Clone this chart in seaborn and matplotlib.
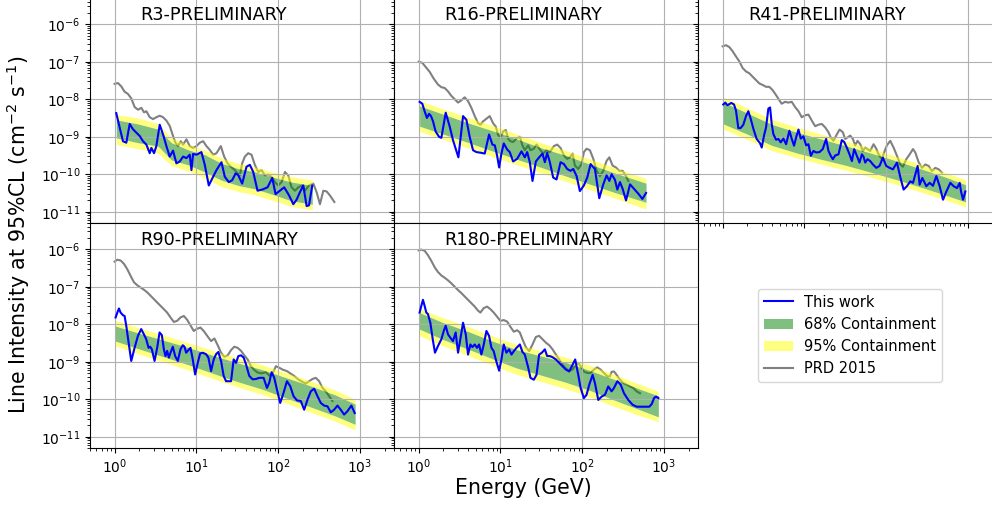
import numpy as np
import matplotlib
matplotlib.use("Agg")
import matplotlib.pyplot as plt
import seaborn as sns
from matplotlib.lines import Line2D
from matplotlib.patches import Patch

# all values are log10(E / GeV) and log10(intensity / cm^-2 s^-1)

# ---- R3 ----
r3_e = [0.02, 0.061, 0.102, 0.143, 0.184, 0.224, 0.265, 0.306, 0.347, 0.388, 0.429, 0.449, 0.482, 0.51, 0.551,
        0.592, 0.633, 0.673, 0.714, 0.755, 0.796, 0.837, 0.878, 0.918, 0.939, 0.959, 1.0, 1.061, 1.102, 1.151,
        1.192, 1.245, 1.306, 1.347, 1.396, 1.437, 1.478, 1.51, 1.559, 1.612, 1.653, 1.694, 1.747, 1.804, 1.869,
        1.927, 1.967, 2.02, 2.073, 2.131, 2.184, 2.224, 2.265, 2.306, 2.347, 2.376, 2.416]
r3_lim = [-8.37, -8.75, -9.12, -9.16, -8.66, -8.8, -8.89, -8.98, -9.12, -9.21, -9.44, -9.3, -9.44, -9.25, -8.68,
          -8.94, -9.25, -9.53, -9.37, -9.71, -9.66, -9.53, -9.57, -9.48, -9.89, -9.46, -9.48, -9.41, -9.75, -10.3,
          -10.12, -9.89, -9.68, -10.07, -10.21, -10.16, -9.98, -10.02, -10.25, -9.8, -9.75, -9.94, -10.44, -10.41,
          -10.35, -10.1, -10.53, -10.44, -10.35, -10.56, -10.8, -10.68, -10.48, -10.3, -10.85, -10.83, -10.3]
r3_prd_e = [0, 0.041, 0.082, 0.122, 0.163, 0.204, 0.245, 0.286, 0.327, 0.359, 0.388, 0.429, 0.469, 0.51, 0.551,
            0.592, 0.633, 0.673, 0.714, 0.743, 0.776, 0.808, 0.837, 0.878, 0.918, 0.959, 1.0, 1.041, 1.082, 1.122,
            1.163, 1.204, 1.245, 1.298, 1.339, 1.38, 1.42, 1.469, 1.502, 1.531, 1.559, 1.592, 1.633, 1.673, 1.714,
            1.755, 1.796, 1.837, 1.878, 1.918, 1.959, 2.0, 2.041, 2.082, 2.122, 2.163, 2.204, 2.245, 2.294, 2.327,
            2.376, 2.429, 2.469, 2.51, 2.551, 2.592, 2.633, 2.686]
r3_prd = [-7.59, -7.57, -7.66, -7.8, -7.86, -7.98, -8.21, -8.28, -8.23, -8.35, -8.32, -8.48, -8.53, -8.48, -8.44,
          -8.48, -8.57, -8.71, -8.98, -9.16, -9.25, -9.12, -9.21, -9.07, -9.25, -9.3, -9.25, -9.16, -9.12, -9.25,
          -9.35, -9.48, -9.44, -9.25, -9.53, -9.71, -9.8, -9.89, -9.98, -10.03, -9.71, -9.53, -9.44, -9.48, -9.75,
          -9.94, -9.89, -10.03, -10.01, -10.07, -10.21, -10.3, -10.21, -9.94, -10.03, -10.35, -10.44, -10.35, -10.3,
          -10.44, -10.3, -10.25, -10.48, -10.8, -10.44, -10.46, -10.57, -10.74]
r3_band_e = [0.02, 0.286, 0.531, 0.694, 0.898, 1.102, 1.306, 1.51, 1.714, 1.918, 2.163, 2.416]
r3_g_hi = [-8.55, -8.66, -8.8, -9.16, -9.35, -9.48, -9.71, -9.85, -9.94, -10.07, -10.21, -10.3]
r3_g_lo = [-9.03, -9.16, -9.25, -9.62, -9.75, -9.94, -10.16, -10.3, -10.39, -10.53, -10.71, -10.8]
r3_y_hi = [-8.41, -8.5, -8.65, -9.03, -9.21, -9.35, -9.57, -9.71, -9.8, -9.94, -10.07, -10.16]
r3_y_lo = [-9.21, -9.32, -9.44, -9.77, -9.92, -10.1, -10.33, -10.46, -10.55, -10.69, -10.86, -10.95]

# ---- R16 ----
r16_e = [0.012, 0.045, 0.073, 0.102, 0.127, 0.151, 0.176, 0.208, 0.249, 0.278, 0.331, 0.38, 0.42, 0.486, 0.543,
         0.584, 0.624, 0.665, 0.706, 0.767, 0.808, 0.861, 0.902, 0.931, 0.959, 0.984, 1.012, 1.041, 1.082, 1.114,
         1.155, 1.204, 1.257, 1.298, 1.327, 1.359, 1.392, 1.433, 1.473, 1.514, 1.543, 1.571, 1.604, 1.645, 1.686,
         1.735, 1.776, 1.816, 1.857, 1.89, 1.931, 1.971, 2.02, 2.061, 2.102, 2.155, 2.208, 2.257, 2.298, 2.331,
         2.359, 2.4, 2.429, 2.461, 2.494, 2.535, 2.584, 2.633, 2.686, 2.735, 2.78]
r16_lim = [-8.07, -8.12, -8.32, -8.5, -8.39, -8.45, -8.59, -8.86, -9.0, -9.03, -8.36, -8.73, -9.09, -9.55, -8.45,
           -8.55, -9.0, -9.36, -9.41, -9.43, -9.45, -8.94, -9.21, -9.23, -9.5, -9.82, -9.45, -9.18, -9.34, -9.41,
           -9.66, -9.59, -9.39, -9.55, -9.41, -9.68, -10.18, -9.66, -9.55, -9.45, -9.68, -9.43, -9.68, -10.09,
           -10.14, -9.68, -9.73, -9.86, -9.91, -9.86, -10.05, -10.45, -10.3, -10.09, -9.73, -9.86, -10.64, -10.27,
           -10.03, -10.18, -10.0, -10.15, -10.41, -10.21, -10.39, -10.7, -10.27, -10.39, -10.52, -10.66, -10.5]
r16_prd_e = [0, 0.045, 0.086, 0.135, 0.184, 0.237, 0.278, 0.318, 0.359, 0.4, 0.441, 0.482, 0.522, 0.563, 0.604,
             0.645, 0.686, 0.727, 0.755, 0.788, 0.829, 0.869, 0.91, 0.943, 0.971, 1.0, 1.033, 1.065, 1.094, 1.122,
             1.155, 1.196, 1.237, 1.269, 1.298, 1.339, 1.367, 1.408, 1.441, 1.49, 1.522, 1.563, 1.604, 1.653, 1.694,
             1.735, 1.776, 1.816, 1.849, 1.882, 1.91, 1.951, 1.992, 2.02, 2.053, 2.094, 2.135, 2.176, 2.216, 2.257,
             2.298, 2.331, 2.371, 2.412, 2.453, 2.494, 2.535, 2.563]
r16_prd = [-7.0, -7.03, -7.14, -7.27, -7.45, -7.61, -7.68, -7.7, -7.79, -7.91, -8.0, -8.09, -8.03, -7.95, -8.05,
           -8.23, -8.45, -8.64, -8.68, -8.59, -8.52, -8.45, -8.64, -8.73, -8.95, -9.03, -8.86, -8.82, -9.05, -9.12,
           -9.14, -9.05, -9.0, -9.23, -9.36, -9.23, -9.36, -9.32, -9.21, -9.36, -9.45, -9.36, -9.41, -9.25, -9.21,
           -9.3, -9.5, -9.59, -9.55, -9.45, -9.77, -9.86, -9.73, -9.41, -9.32, -9.36, -9.59, -9.91, -10.05, -9.91,
           -9.64, -9.55, -9.77, -9.82, -9.91, -9.91, -10.05, -10.18]
r16_band_e = [0.012, 0.3, 0.6, 0.9, 1.2, 1.5, 1.8, 2.1, 2.4, 2.78]
r16_g_hi = [-8.18, -8.40, -8.63, -8.84, -9.06, -9.30, -9.50, -9.74, -9.97, -10.24]
r16_g_lo = [-8.72, -8.93, -9.15, -9.38, -9.60, -9.82, -10.05, -10.27, -10.49, -10.75]
r16_y_hi = [-8.04, -8.26, -8.48, -8.70, -8.93, -9.16, -9.37, -9.60, -9.83, -10.12]
r16_y_lo = [-8.86, -9.07, -9.30, -9.53, -9.75, -9.97, -10.19, -10.42, -10.64, -10.93]

# ---- R41 ----
r41_e = [0.008, 0.033, 0.057, 0.082, 0.106, 0.139, 0.163, 0.192, 0.22, 0.253, 0.286, 0.314, 0.343, 0.376, 0.416,
         0.457, 0.478, 0.506, 0.531, 0.559, 0.58, 0.6, 0.62, 0.653, 0.682, 0.71, 0.743, 0.776, 0.816, 0.845,
         0.873, 0.898, 0.927, 0.955, 0.988, 1.02, 1.049, 1.078, 1.11, 1.143, 1.184, 1.224, 1.265, 1.294, 1.322,
         1.347, 1.376, 1.416, 1.457, 1.486, 1.518, 1.551, 1.58, 1.608, 1.641, 1.673, 1.702, 1.722, 1.743, 1.771,
         1.804, 1.837, 1.878, 1.918, 1.959, 2.0, 2.041, 2.082, 2.131, 2.171, 2.212, 2.253, 2.294, 2.327, 2.355,
         2.384, 2.408, 2.441, 2.49, 2.531, 2.571, 2.612, 2.653, 2.694, 2.735, 2.784, 2.824, 2.865, 2.898, 2.914,
         2.939, 2.967]
r41_lim = [-8.14, -8.09, -8.16, -8.13, -8.10, -8.14, -8.30, -8.77, -8.77, -8.68, -8.45, -8.32, -8.52, -8.79, -9.06,
           -9.17, -9.29, -8.97, -8.75, -8.25, -8.22, -8.66, -8.93, -9.08, -9.06, -9.15, -9.05, -9.20, -8.84, -9.06,
           -9.24, -9.02, -8.81, -9.05, -8.99, -9.23, -9.20, -9.51, -9.38, -9.42, -9.41, -9.33, -9.06, -9.38, -9.51,
           -9.60, -9.50, -9.47, -9.09, -9.14, -9.29, -9.47, -9.65, -9.33, -9.51, -9.69, -9.47, -9.53, -9.69, -9.60,
           -9.65, -9.74, -9.83, -9.78, -9.56, -9.78, -9.83, -9.87, -9.69, -10.07, -10.41, -10.32, -10.19, -10.23,
           -10.01, -9.78, -10.28, -10.10, -10.32, -10.23, -10.31, -10.05, -10.32, -10.68, -10.46, -10.23, -10.32,
           -10.37, -10.23, -10.46, -10.68, -10.46]
r41_prd_e = [0, 0.041, 0.082, 0.122, 0.163, 0.204, 0.245, 0.286, 0.327, 0.367, 0.408, 0.449, 0.49, 0.531, 0.571,
             0.612, 0.653, 0.694, 0.722, 0.763, 0.804, 0.845, 0.886, 0.927, 0.967, 1.008, 1.049, 1.09, 1.131, 1.171,
             1.212, 1.253, 1.294, 1.322, 1.355, 1.388, 1.429, 1.469, 1.498, 1.527, 1.559, 1.592, 1.62, 1.649, 1.682,
             1.714, 1.743, 1.771, 1.804, 1.845, 1.878, 1.906, 1.947, 1.976, 2.008, 2.049, 2.09, 2.131, 2.171, 2.204,
             2.245, 2.286, 2.327, 2.355, 2.396, 2.437, 2.478, 2.518, 2.559, 2.6, 2.641, 2.682]
r41_prd = [-6.59, -6.56, -6.61, -6.72, -6.86, -6.99, -7.17, -7.26, -7.31, -7.40, -7.49, -7.58, -7.62, -7.67, -7.67,
           -7.76, -7.89, -8.03, -8.12, -8.07, -8.09, -8.07, -8.21, -8.32, -8.48, -8.43, -8.41, -8.57, -8.72, -8.68,
           -8.66, -8.75, -8.88, -9.02, -9.11, -8.97, -8.81, -8.88, -9.06, -9.02, -8.97, -9.06, -9.23, -9.11, -9.20,
           -9.38, -9.29, -9.33, -9.38, -9.20, -9.32, -9.47, -9.60, -9.41, -9.23, -9.11, -9.29, -9.51, -9.74, -9.80,
           -9.60, -9.47, -9.33, -9.42, -9.68, -9.83, -9.74, -9.78, -9.92, -9.83, -9.87, -9.96]
r41_band_e = [0.01, 0.3, 0.6, 0.9, 1.2, 1.5, 1.8, 2.1, 2.4, 2.7, 2.97]
r41_g_hi = [-8.08, -8.37, -8.67, -8.88, -9.06, -9.24, -9.43, -9.63, -9.84, -10.06, -10.28]
r41_g_lo = [-8.66, -8.93, -9.23, -9.43, -9.60, -9.76, -9.94, -10.13, -10.33, -10.54, -10.74]
r41_y_hi = [-7.94, -8.23, -8.53, -8.74, -8.93, -9.11, -9.30, -9.51, -9.72, -9.94, -10.15]
r41_y_lo = [-8.80, -9.07, -9.37, -9.56, -9.73, -9.89, -10.07, -10.26, -10.46, -10.67, -10.87]

# ---- R90 ----
r90_e = [0.012, 0.033, 0.053, 0.073, 0.102, 0.122, 0.142, 0.171, 0.203, 0.244, 0.285, 0.325, 0.358, 0.386, 0.415,
         0.435, 0.455, 0.488, 0.52, 0.549, 0.577, 0.602, 0.622, 0.642, 0.663, 0.683, 0.711, 0.74, 0.772, 0.805,
         0.833, 0.854, 0.874, 0.894, 0.927, 0.955, 0.984, 1.016, 1.045, 1.077, 1.118, 1.146, 1.179, 1.211, 1.24,
         1.268, 1.301, 1.333, 1.362, 1.39, 1.423, 1.455, 1.484, 1.512, 1.545, 1.577, 1.606, 1.646, 1.687, 1.728,
         1.768, 1.821, 1.862, 1.89, 1.919, 1.951, 1.984, 2.024, 2.065, 2.106, 2.146, 2.187, 2.228, 2.276, 2.317,
         2.358, 2.398, 2.439, 2.48, 2.52, 2.561, 2.602, 2.642, 2.683, 2.724, 2.764, 2.805, 2.846, 2.894, 2.935]
r90_lim = [-7.82, -7.69, -7.58, -7.69, -7.76, -7.78, -8.04, -8.49, -8.98, -8.63, -8.31, -8.13, -8.27, -8.40, -8.63,
           -8.60, -8.67, -8.98, -8.63, -8.22, -8.29, -8.67, -8.85, -8.71, -8.89, -8.76, -8.60, -8.85, -8.98, -8.67,
           -8.56, -8.60, -8.76, -8.71, -8.63, -8.94, -9.34, -9.03, -8.78, -8.76, -8.80, -8.89, -9.25, -8.94, -8.80,
           -8.74, -8.98, -9.38, -9.52, -9.52, -9.52, -8.94, -9.03, -8.85, -8.83, -8.89, -9.07, -9.38, -9.47, -9.46,
           -9.43, -9.43, -9.70, -9.56, -9.28, -9.43, -9.74, -10.10, -9.83, -9.52, -9.65, -9.92, -10.03, -10.05,
           -10.28, -10.01, -9.79, -9.72, -9.92, -10.10, -10.17, -10.19, -10.35, -10.28, -10.17, -10.28, -10.41,
           -10.32, -10.17, -10.37]
r90_prd_e = [0, 0.033, 0.073, 0.114, 0.154, 0.195, 0.236, 0.276, 0.317, 0.358, 0.398, 0.439, 0.48, 0.52, 0.561,
             0.602, 0.642, 0.683, 0.724, 0.764, 0.805, 0.846, 0.886, 0.927, 0.967, 1.008, 1.049, 1.089, 1.138, 1.179,
             1.22, 1.26, 1.301, 1.341, 1.382, 1.423, 1.463, 1.504, 1.545, 1.585, 1.626, 1.667, 1.707, 1.748, 1.797,
             1.85, 1.89, 1.931, 1.972, 2.012, 2.053, 2.106, 2.146, 2.195, 2.244, 2.297, 2.337, 2.378, 2.419, 2.459,
             2.5, 2.541, 2.581, 2.622, 2.663]
r90_prd = [-6.33, -6.28, -6.30, -6.39, -6.53, -6.71, -6.88, -6.96, -7.02, -7.08, -7.15, -7.24, -7.33, -7.42, -7.51,
           -7.60, -7.69, -7.82, -7.94, -7.91, -7.82, -7.78, -7.88, -8.03, -8.18, -8.12, -8.09, -8.18, -8.33, -8.45,
           -8.38, -8.56, -8.76, -8.87, -8.83, -8.69, -8.60, -8.63, -8.71, -8.83, -8.94, -9.12, -9.22, -9.29, -9.31,
           -9.28, -9.37, -9.31, -9.12, -9.16, -9.21, -9.25, -9.31, -9.38, -9.47, -9.54, -9.58, -9.52, -9.46, -9.43,
           -9.52, -9.70, -9.79, -9.92, -10.05]
r90_band_e = [0.01, 0.3, 0.6, 0.9, 1.2, 1.5, 1.8, 2.1, 2.4, 2.7, 2.94]
r90_g_hi = [-8.05, -8.24, -8.43, -8.62, -8.83, -9.03, -9.21, -9.43, -9.65, -9.89, -10.13]
r90_g_lo = [-8.45, -8.66, -8.87, -9.08, -9.31, -9.53, -9.73, -9.97, -10.21, -10.45, -10.67]
r90_y_hi = [-7.90, -8.10, -8.29, -8.49, -8.70, -8.90, -9.08, -9.30, -9.52, -9.76, -10.0]
r90_y_lo = [-8.58, -8.80, -9.01, -9.22, -9.45, -9.67, -9.87, -10.11, -10.35, -10.59, -10.82]

# ---- R180 ----
r180_e = [0.012, 0.033, 0.053, 0.073, 0.094, 0.114, 0.143, 0.176, 0.2, 0.237, 0.278, 0.31, 0.331, 0.359, 0.388,
          0.42, 0.453, 0.482, 0.51, 0.543, 0.576, 0.604, 0.633, 0.657, 0.686, 0.714, 0.739, 0.767, 0.796, 0.829,
          0.861, 0.89, 0.918, 0.943, 0.984, 1.012, 1.041, 1.073, 1.106, 1.135, 1.163, 1.196, 1.237, 1.269, 1.298,
          1.339, 1.367, 1.408, 1.441, 1.473, 1.506, 1.543, 1.571, 1.604, 1.637, 1.678, 1.718, 1.759, 1.8, 1.841,
          1.882, 1.914, 1.951, 1.98, 2.02, 2.053, 2.086, 2.127, 2.155, 2.196, 2.237, 2.278, 2.318, 2.359, 2.388,
          2.429, 2.469, 2.51, 2.563, 2.616, 2.665, 2.714, 2.767, 2.82, 2.849, 2.878, 2.902, 2.931]
r180_lim = [-7.69, -7.51, -7.35, -7.51, -7.69, -7.73, -7.96, -8.45, -8.76, -8.58, -8.40, -8.16, -8.04, -8.27, -8.36,
            -8.45, -8.22, -8.76, -8.40, -7.96, -8.27, -8.81, -8.54, -8.61, -8.54, -8.63, -8.54, -8.81, -8.54, -8.18,
            -8.31, -8.63, -8.72, -8.94, -9.24, -8.94, -8.54, -8.76, -8.67, -8.81, -8.72, -8.63, -8.54, -8.74, -8.81,
            -9.15, -9.43, -9.48, -9.35, -8.81, -8.76, -8.67, -8.85, -8.85, -8.88, -8.94, -9.03, -9.12, -9.21, -9.26,
            -9.08, -8.94, -9.35, -9.70, -9.97, -9.88, -9.61, -9.35, -9.57, -10.02, -9.93, -9.88, -9.66, -9.79, -9.70,
            -9.52, -9.61, -9.84, -10.02, -10.15, -10.20, -10.20, -10.20, -10.20, -10.13, -9.97, -9.93, -9.97]
r180_prd_e = [0, 0.033, 0.073, 0.114, 0.155, 0.196, 0.237, 0.278, 0.318, 0.359, 0.4, 0.441, 0.482, 0.522, 0.563,
              0.604, 0.645, 0.686, 0.727, 0.755, 0.796, 0.837, 0.878, 0.918, 0.959, 1.0, 1.041, 1.082, 1.122, 1.163,
              1.204, 1.237, 1.269, 1.31, 1.351, 1.392, 1.433, 1.473, 1.514, 1.555, 1.596, 1.637, 1.678, 1.718, 1.759,
              1.8, 1.841, 1.882, 1.922, 1.951, 1.98, 2.02, 2.061, 2.102, 2.143, 2.184, 2.224, 2.265, 2.306, 2.339,
              2.359, 2.388, 2.42, 2.461, 2.502, 2.543, 2.584, 2.624, 2.665, 2.706]
r180_prd = [-6.03, -6.01, -6.04, -6.16, -6.31, -6.48, -6.61, -6.70, -6.76, -6.83, -6.91, -7.0, -7.09, -7.17, -7.26,
            -7.35, -7.44, -7.53, -7.64, -7.69, -7.57, -7.53, -7.60, -7.69, -7.80, -7.91, -7.89, -7.93, -8.07, -8.20,
            -8.16, -8.22, -8.40, -8.61, -8.72, -8.54, -8.34, -8.31, -8.40, -8.49, -8.56, -8.67, -8.81, -8.94, -9.08,
            -9.18, -9.24, -9.21, -9.08, -9.03, -9.12, -9.26, -9.30, -9.30, -9.21, -9.15, -9.21, -9.30, -9.39, -9.39,
            -9.27, -9.26, -9.35, -9.48, -9.57, -9.61, -9.66, -9.70, -9.79, -9.84]
r180_band_e = [0.01, 0.3, 0.6, 0.9, 1.2, 1.5, 1.8, 2.1, 2.4, 2.7, 2.93]
r180_g_hi = [-7.69, -7.96, -8.19, -8.45, -8.68, -8.85, -9.02, -9.24, -9.48, -9.73, -9.91]
r180_g_lo = [-8.13, -8.41, -8.66, -8.92, -9.17, -9.36, -9.55, -9.77, -10.03, -10.28, -10.47]
r180_y_hi = [-7.58, -7.83, -8.06, -8.31, -8.54, -8.71, -8.88, -9.10, -9.35, -9.60, -9.79]
r180_y_lo = [-8.31, -8.58, -8.83, -9.09, -9.34, -9.53, -9.72, -9.95, -10.20, -10.44, -10.60]

names = ["R3-PRELIMINARY", "R16-PRELIMINARY", "R41-PRELIMINARY", "R90-PRELIMINARY", "R180-PRELIMINARY"]

panels = [
    (r3_e, r3_lim, r3_prd_e, r3_prd, r3_band_e, r3_g_hi, r3_g_lo, r3_y_hi, r3_y_lo),
    (r16_e, r16_lim, r16_prd_e, r16_prd, r16_band_e, r16_g_hi, r16_g_lo, r16_y_hi, r16_y_lo),
    (r41_e, r41_lim, r41_prd_e, r41_prd, r41_band_e, r41_g_hi, r41_g_lo, r41_y_hi, r41_y_lo),
    (r90_e, r90_lim, r90_prd_e, r90_prd, r90_band_e, r90_g_hi, r90_g_lo, r90_y_hi, r90_y_lo),
    (r180_e, r180_lim, r180_prd_e, r180_prd, r180_band_e, r180_g_hi, r180_g_lo, r180_y_hi, r180_y_lo),
]


def p10(v):
    return 10.0 ** np.asarray(v)


fig, axes = plt.subplots(2, 3, figsize=(9.92, 5.09), dpi=100, sharex=True, sharey=True)
fig.subplots_adjust(left=90/992, right=1002/992, bottom=1-448/509, top=1+2/509, wspace=0, hspace=0)

for k, ax in enumerate(axes.flat[:5]):
    e, lim, pe, prd, be, g_hi, g_lo, y_hi, y_lo = panels[k]
    ax.set_xscale("log")
    ax.set_yscale("log")
    # 95% band drawn outside the 68% band only, so the green stays a clean green
    ax.fill_between(p10(be), p10(g_hi), p10(y_hi), color="yellow", alpha=0.5, lw=0)
    ax.fill_between(p10(be), p10(y_lo), p10(g_lo), color="yellow", alpha=0.5, lw=0)
    ax.fill_between(p10(be), p10(g_lo), p10(g_hi), color="green", alpha=0.5, lw=0)
    sns.lineplot(x=p10(pe), y=p10(prd), ax=ax, color="gray", lw=1.5, estimator=None, sort=False, zorder=0.5)
    sns.lineplot(x=p10(e), y=p10(lim), ax=ax, color="blue", lw=1.5, estimator=None, sort=False, zorder=3)
    ax.grid(True)
    ax.text(0.165, 0.925, names[k], transform=ax.transAxes, fontsize=12.7, va="center")
    ax.set_xlabel("")
    ax.set_ylabel("")

axes[0, 0].set_xlim(0.5, 2600)
axes[0, 0].set_ylim(5e-12, 5e-6)

leg_ax = axes[1, 2]
leg_ax.axis("off")
handles = [
    Line2D([], [], color="blue", lw=1.5),
    Patch(facecolor="green", alpha=0.5),
    Patch(facecolor="yellow", alpha=0.5),
    Line2D([], [], color="gray", lw=1.5),
]
labels = ["This work", "68% Containment", "95% Containment", "PRD 2015"]
leg_ax.legend(handles, labels, loc="center", fontsize=10.5)

fig.text(523/992, 1-488/509, "Energy (GeV)", ha="center", va="center", fontsize=14.8)
fig.text(18/992, 1-235/509, r"Line Intensity at 95%CL (cm$^{-2}$ s$^{-1}$)",
         ha="center", va="center", rotation=90, fontsize=14.8)

fig.savefig("out.png", dpi=100)
